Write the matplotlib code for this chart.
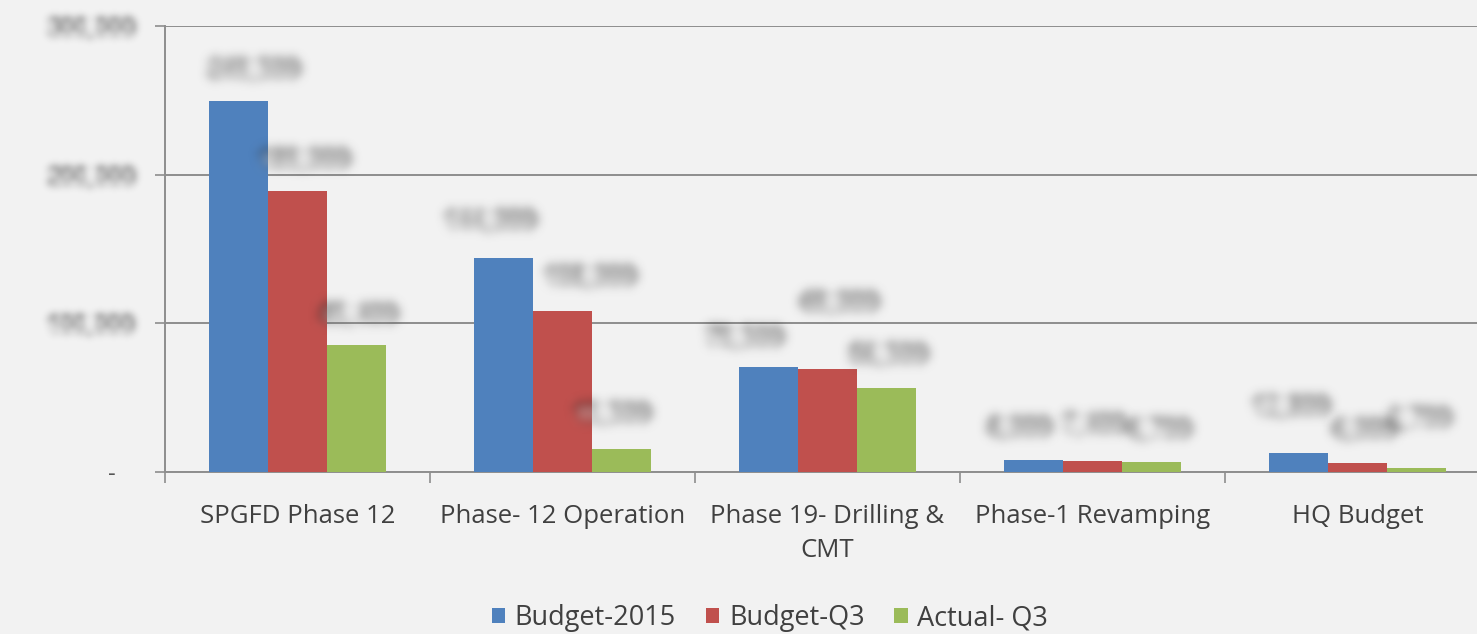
import numpy as np
import matplotlib
matplotlib.use("Agg")
import matplotlib.pyplot as plt

categories = ["SPGFD Phase 12", "Phase- 12 Operation", "Phase 19- Drilling &\nCMT",
              "Phase-1 Revamping", "HQ Budget"]
budget_2015 = [249500, 144000, 70500, 8000, 12800]
budget_q3 = [189000, 108000, 69000, 7400, 6000]
actual_q3 = [85400, 15500, 56500, 6700, 2700]
series_names = ["Budget-2015", "Budget-Q3", "Actual- Q3"]
yticks = [0, 100000, 200000, 300000]

colors = ["#4F81BD", "#C0504D", "#9BBB59"]
bg = "#f2f2f2"
grid_c = "#8e8e8e"
text_c = "#404040"

# label nudges in pixels: (x shift, height of label centre above bar top)
label_offsets = [
    [(15, 31), (6, 31), (2, 30)],
    [(-14, 36), (27, 34), (-10, 34)],
    [(-24, 29), (12, 66), (3, 33)],
    [(-14, 32), (2, 35), (8, 32)],
    [(-8, 45), (7, 33), (3, 48)],
]


def gauss_blur(sigma):
    r = int(3 * sigma)
    k = np.exp(-0.5 * (np.arange(-r, r + 1) / sigma) ** 2)
    k /= k.sum()

    def filt(im, dpi):
        a = np.pad(im, ((r, r), (r, r), (0, 0)))
        a = np.apply_along_axis(lambda v: np.convolve(v, k, mode="same"), 0, a)
        a = np.apply_along_axis(lambda v: np.convolve(v, k, mode="same"), 1, a)
        return a, -r, -r
    return filt


plt.rcParams["font.family"] = ["Open Sans", "DejaVu Sans"]

fig = plt.figure(figsize=(14.77, 6.34), dpi=100, facecolor=bg)
ax = fig.add_axes([165 / 1477, 162 / 634, 1325 / 1477, 446 / 634])
ax.set_facecolor(bg)

x = np.arange(len(categories))
w = 0.222
groups = [budget_2015, budget_q3, actual_q3]
for j, (vals, name, c) in enumerate(zip(groups, series_names, colors)):
    xs = x + (j - 1) * w
    ax.bar(xs, vals, width=w, color=c, label=name, zorder=3)
    for i, v in enumerate(vals):
        dx, dy = label_offsets[i][j]
        t = ax.annotate(f"{v:,.0f}", (xs[i], v), xytext=(dx * 0.72, dy * 0.72),
                        textcoords="offset points", ha="center", va="center",
                        fontsize=18, color="#555555", fontweight="bold", zorder=4)
        t.set_agg_filter(gauss_blur(4.0))

ax.set_xlim(-0.5, len(categories) - 0.5)
ax.set_ylim(0, 300000)
ax.set_yticks(yticks)
ax.set_yticklabels(["-   "] + [f"{v:,.0f}" for v in yticks[1:]])
for lab in ax.get_yticklabels()[1:]:
    lab.set_agg_filter(gauss_blur(4.0))
    lab.set_fontweight("bold")
    lab.set_fontsize(19)
ax.grid(axis="y", color=grid_c, linewidth=1.4, zorder=0)

ax.set_xticks(x)
ax.set_xticklabels(categories, linespacing=1.5)
ax.set_xticks(np.arange(-0.5, len(categories), 1), minor=True)
ax.tick_params(axis="x", which="major", length=0, pad=23, labelsize=18.5, labelcolor=text_c)
ax.tick_params(axis="x", which="minor", length=8, width=1.2, color=grid_c, direction="out")
ax.tick_params(axis="y", length=7, width=1.2, color=grid_c, pad=15, labelsize=17,
               labelcolor="#555555")

for s in ["top", "right"]:
    ax.spines[s].set_visible(False)
for s in ["left", "bottom"]:
    ax.spines[s].set_color(grid_c)
    ax.spines[s].set_linewidth(1.4)

fig.legend(loc="center", bbox_to_anchor=(770 / 1477, 16 / 634), ncol=3, frameon=False,
           fontsize=19.5, handlelength=0.5, handleheight=0.5, handletextpad=0.35,
           columnspacing=1.1, labelcolor=text_c)

fig.savefig("out.png", dpi=100, facecolor=bg)
